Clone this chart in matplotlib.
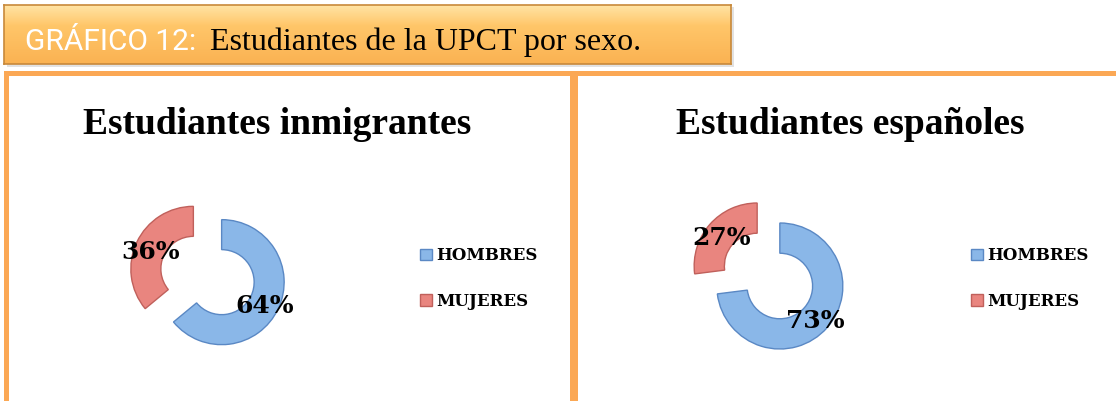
import numpy as np
import matplotlib
matplotlib.use("Agg")
import matplotlib.pyplot as plt
from matplotlib.patches import Rectangle

# ---------------- data ----------------
categories = ["HOMBRES", "MUJERES"]
inmigrantes = [64, 36]
espanoles = [73, 27]
chart_titles = ["Estudiantes inmigrantes", "Estudiantes españoles"]
header_label = "GRÁFICO 12:"
header_text = "Estudiantes de la UPCT por sexo."

# ---------------- styling ----------------
W, H = 1116, 401
BLUE = "#8AB7E8"
BLUE_EDGE = "#5A88C4"
RED = "#E9857F"
RED_EDGE = "#C0605B"
ORANGE = "#FBA855"

fig = plt.figure(figsize=(W / 100, H / 100), dpi=100)
fig.patch.set_facecolor("white")


def fx(px):
    return px / W


def fy(py):
    return 1 - py / H


# ---------------- header box ----------------
fig.add_artist(Rectangle((fx(7), fy(67)), fx(734) - fx(7), 60 / H,
                         transform=fig.transFigure, facecolor="#a0a0a0",
                         alpha=0.3, edgecolor="none", zorder=1))
ax_h = fig.add_axes([fx(4), fy(64), fx(731) - fx(4), 59 / H], zorder=2)
grad = np.linspace(0, 1, 100)
c_top = np.array([255, 228, 165]) / 255
c_mid = np.array([255, 198, 105]) / 255
c_bot = np.array([250, 178, 82]) / 255
cols = np.where(grad[:, None] < 0.35,
                c_top + (c_mid - c_top) * (grad[:, None] / 0.35),
                c_mid + (c_bot - c_mid) * ((grad[:, None] - 0.35) / 0.65))
img = np.repeat(cols[:, None, :], 10, axis=1)
ax_h.imshow(img, aspect="auto", extent=(0, 1, 0, 1))
ax_h.set_xlim(0, 1)
ax_h.set_ylim(0, 1)
for s in ax_h.spines.values():
    s.set_color("#C8893A")
    s.set_linewidth(1.2)
ax_h.set_xticks([])
ax_h.set_yticks([])

fig.text(fx(25), fy(50), header_label, color="#FFFFFF", fontsize=21.5,
         family=["Roboto", "Liberation Sans", "DejaVu Sans"],
         fontweight="normal", va="baseline", ha="left", zorder=5)
fig.text(fx(210), fy(50), header_text, color="black", fontsize=23,
         family=["Liberation Serif", "DejaVu Serif"], va="baseline",
         ha="left", zorder=5)

# ---------------- panel frame lines ----------------
fig.add_artist(Rectangle((fx(4), fy(76)), 1 - fx(4), 5 / H,
                         transform=fig.transFigure, facecolor=ORANGE,
                         edgecolor="none", zorder=3))
fig.add_artist(Rectangle((fx(4), 0), 5 / W, fy(72),
                         transform=fig.transFigure, facecolor=ORANGE,
                         edgecolor="none", zorder=3))
fig.add_artist(Rectangle((fx(570), 0), 8 / W, fy(72),
                         transform=fig.transFigure, facecolor=ORANGE,
                         edgecolor="none", zorder=3))

# ---------------- donuts ----------------
panels = [
    dict(values=inmigrantes, title=chart_titles[0], cx=207.5, cy=275.5,
         R=62.5, explode=0.25, title_x=277, legend_x=420),
    dict(values=espanoles, title=chart_titles[1], cx=768.5, cy=276,
         R=63, explode=0.24, title_x=850, legend_x=971),
]

for p in panels:
    half = 1.5 * p["R"]
    ax = fig.add_axes([fx(p["cx"] - half), fy(p["cy"] + half),
                       2 * half / W, 2 * half / H], zorder=4)
    wedges, texts, autotexts = ax.pie(
        p["values"], explode=[p["explode"]] * len(p["values"]),
        startangle=90, counterclock=False, colors=[BLUE, RED],
        autopct="%1.0f%%", pctdistance=0.76, radius=1,
        wedgeprops=dict(width=0.48, linewidth=1.0),
        textprops=dict(fontsize=18, fontweight="bold",
                       family=["DejaVu Serif"], color="black"))
    wedges[0].set_edgecolor(BLUE_EDGE)
    wedges[1].set_edgecolor(RED_EDGE)
    for at in autotexts:
        at.set_zorder(10)
        x, y = at.get_position()
        at.set_position((x, y - 0.06))
    ax.set_xlim(-1.5, 1.5)
    ax.set_ylim(-1.5, 1.5)
    ax.set_aspect("equal")
    ax.axis("off")

    fig.text(fx(p["title_x"]), fy(134), p["title"], ha="center",
             va="baseline", fontsize=27, fontweight="bold",
             family=["Liberation Serif", "DejaVu Serif"], zorder=5)

    leg = ax.legend(wedges, categories, loc="center left",
                    bbox_to_anchor=(fx(p["legend_x"]), fy(278.5)),
                    bbox_transform=fig.transFigure, frameon=False,
                    prop=dict(family="DejaVu Serif", weight="bold", size=12),
                    handlelength=0.7, handleheight=0.7, handletextpad=0.3,
                    labelspacing=1.7, borderpad=0, borderaxespad=0)

fig.savefig("out.png", dpi=100, facecolor="white")
